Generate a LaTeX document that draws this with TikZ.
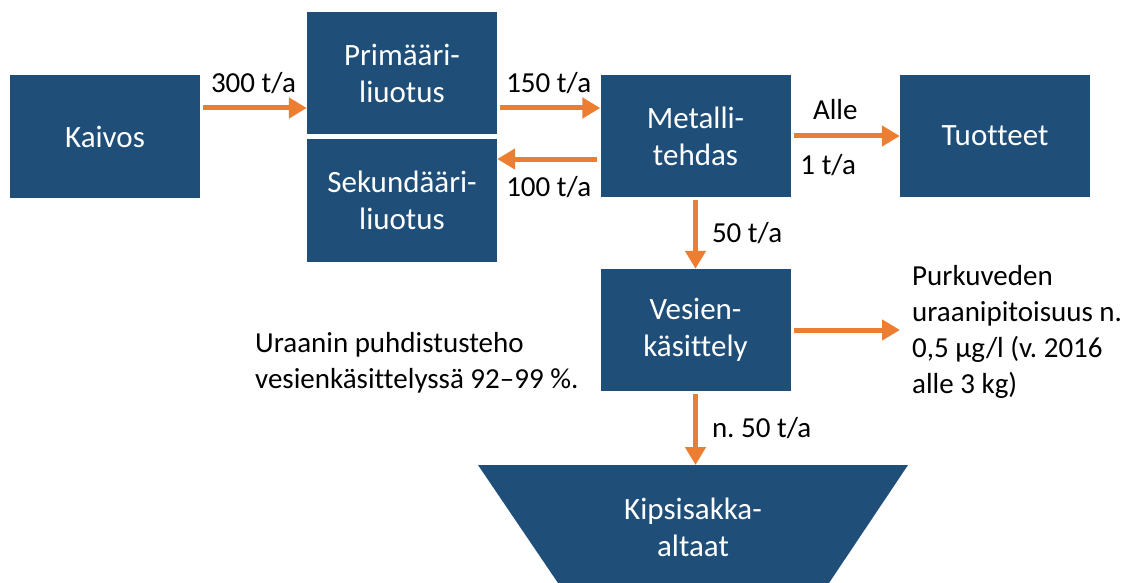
\documentclass[tikz,border=0pt]{standalone}
\usepackage{fontspec}
\setmainfont{Carlito}[Ligatures={TeX,NoCommon}]
\usetikzlibrary{arrows.meta}
\definecolor{boxblue}{RGB}{31,78,121}
\definecolor{floworange}{RGB}{237,125,49}
\tikzset{
  unit/.style={fill=boxblue, text=white, minimum width=190pt, minimum height=122pt,
    align=center, inner sep=0pt, font=\fontsize{31}{37}\selectfont},
  flow/.style={draw=floworange, line width=5pt, -{Triangle[length=18pt,width=20pt]},
    shorten <=3pt},
  qty/.style={inner sep=2pt},
  note/.style={align=left, inner sep=0pt, anchor=west}
}
\begin{document}
\begin{tikzpicture}[x=1pt,y=-1pt,font=\fontsize{29}{36}\selectfont\frenchspacing]
  \useasboundingbox (0,0) rectangle (1132,583);
  \path
    (105,136.5) node[unit] (kaivos){Kaivos}
    (402,73) node[unit] (prim){Primääri-\\liuotus}
    (402,200.5) node[unit] (sek){Sekundääri-\\liuotus}
    (695.5,136) node[unit] (metal){Metalli-\\tehdas}
    (995,136) node[unit] (tuot){Tuotteet}
    (695.5,330) node[unit] (vesi){Vesien-\\käsittely};
  % kipsisakka-altaat
  \fill[boxblue] (478,465) -- (908,465) -- (829,583) -- (558,583) -- cycle;
  \node[text=white, align=center, font=\fontsize{31}{37}\selectfont] (kipsi) at (693,527) {Kipsisakka-\\altaat};
  \coordinate (kipsitop) at (695.5,465);
  \coordinate (purku) at (900,330);
  \node[note] (purkuteksti) at (912,332)
    {Purkuveden\\uraanipitoisuus n.\\0,5 µg/l (v. 2016\\alle 3 kg)};
  \node[note] (teho) at (255,363)
    {Uraanin puhdistusteho\\vesienkäsittelyssä 92–99 \%.};
  \begin{scope}[every node/.style={qty}]
    \draw[flow] ([yshift=28.5pt]kaivos.east) -- node[above=10pt] (q300){300 t/a} ([yshift=-35pt]prim.west);
    \draw[flow] ([yshift=-35pt]prim.east) -- node[above=10pt] (q150){150 t/a} ([yshift=28pt]metal.west);
    \draw[flow] ([yshift=-23pt]metal.west) -- node[below=13pt] (q100){100 t/a} ([yshift=41.5pt]sek.east);
    \draw[flow] (metal.east) -- node[above=12pt, xshift=-10pt] (qalle){Alle}
      node[below=14pt, xshift=-17pt] (q1){1 t/a} (tuot.west);
    \draw[flow] (metal.south) -- node[right=12pt] (q50){50 t/a} (vesi.north);
    \draw[flow] (vesi.east) -- (purku);
    \draw[flow] (vesi.south) -- node[right=12pt] (qn50){n. 50 t/a} (kipsitop);
  \end{scope}
\end{tikzpicture}
\end{document}
